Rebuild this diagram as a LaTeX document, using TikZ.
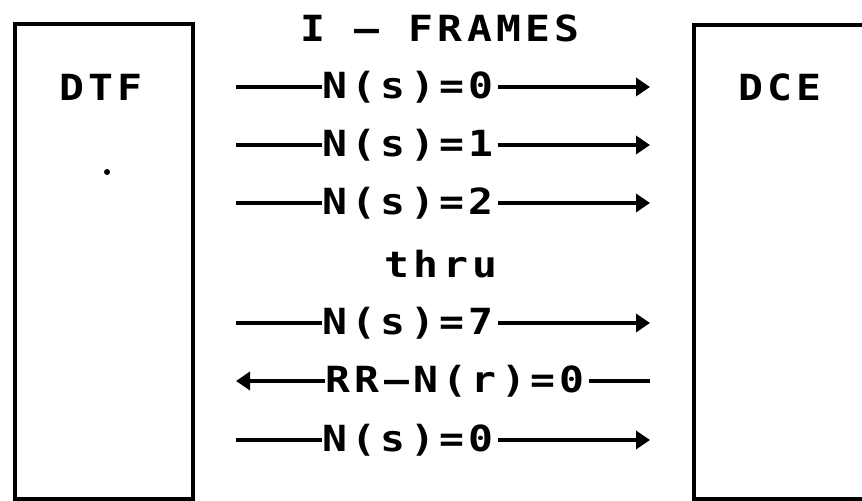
\documentclass[tikz,border=0pt]{standalone}
\usepackage{fontspec}
\newfontfamily\printfont[LetterSpace=12,FakeStretch=1.15]{DejaVu Sans Mono}
\usetikzlibrary{arrows.meta}
\tikzset{
  frame/.style={line width=1.6pt},
  lbl/.style={font=\printfont\bfseries\fontsize{18}{20}\selectfont, inner sep=0pt},
  link/.style={line width=1.8pt},
  tip/.style={-{Triangle[length=7pt,width=9pt]}}
}
\begin{document}
\begin{tikzpicture}[x=0.5pt,y=-0.5pt]
\useasboundingbox (0,0) rectangle (862,501);
\clip (0,0) rectangle (862,501);
% the two stations
\draw[frame] (15,24) rectangle (193,499);
\draw[frame] (694,25) rectangle (880,499);
\node[lbl] (dtf) at (101,87) {DTF};
\fill (107,172) circle (3);
\node[lbl] (dce) at (780,87) {DCE};
\node[lbl] (title) at (440,28) {I — FRAMES};
\node[lbl] (thru) at (441,264) {thru};
% frames sent to the DCE
\foreach \n/\y/\t in {a/87/0, b/145/1, c/203/2, d/323/7, f/440/0} {
  \coordinate (\n-from) at (236,\y);
  \coordinate (\n-to) at (650,\y);
  \node[lbl] (\n) at (408,\y) {N(s)=\t};
  \draw[link] (\n-from) -- (\n.west);
  \draw[link,tip] ([xshift=2pt]\n.east) -- (\n-to);
}
% acknowledgement back to the DTE
\coordinate (rr-from) at (650,381);
\coordinate (rr-to) at (236,381);
\node[lbl] (rr) at (455,381) {RR—N(r)=0};
\draw[link] (rr-from) -- ([xshift=2pt]rr.east);
\draw[link,tip] (rr.west) -- (rr-to);
\end{tikzpicture}
\end{document}
